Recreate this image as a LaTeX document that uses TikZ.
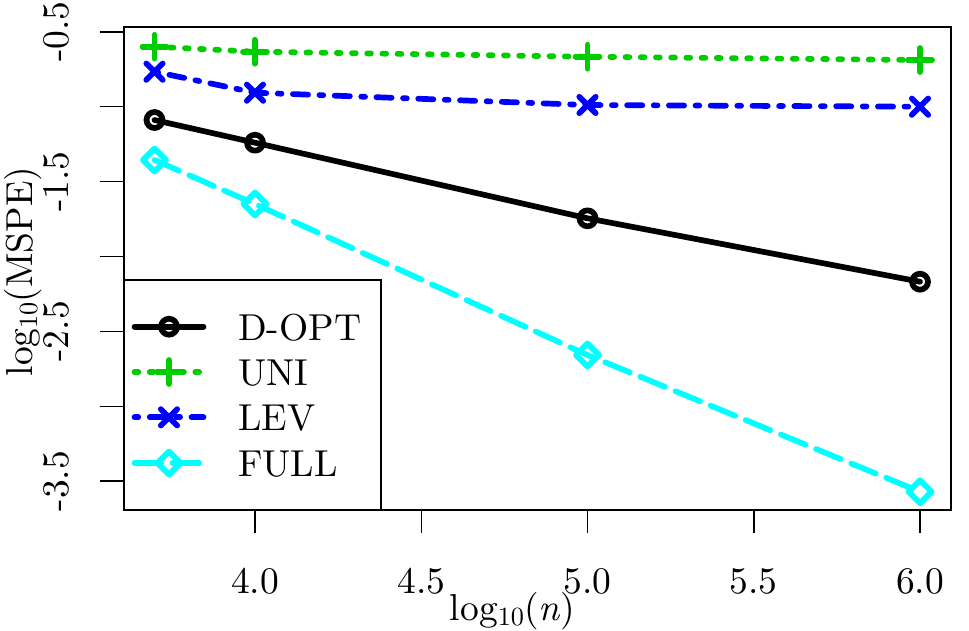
\documentclass[tikz,border=0pt]{standalone}
\usepackage{fontspec}
\setmainfont{lmroman10-regular}[Extension=.otf, ItalicFont=lmroman10-italic]
\newcommand{\subten}{\raisebox{-0.15em}{\fontsize{26.25}{30}\selectfont 10}}
\definecolor{rgreen}{HTML}{00CD00}
\definecolor{rblue}{HTML}{0000FF}
\definecolor{rcyan}{HTML}{00FFFF}
\tikzset{
  every node/.style={font=\fontsize{37.5}{45}\selectfont, inner sep=0pt},
  axisline/.style={line width=1.5pt, line cap=rect},
  serie/.style={line width=5.7pt, line cap=round, line join=round},
  solidsty/.style={serie},
  dotsty/.style={serie, dash pattern=on 3.8pt off 11.4pt},
  dotdashsty/.style={serie, dash pattern=on 3.8pt off 11.4pt on 15.2pt off 11.4pt},
  longdashsty/.style={serie, dash pattern=on 26.6pt off 11.4pt},
  mcircle/.pic={\draw[serie] (0,0) circle[radius=8pt];},
  mplus/.pic={\draw[serie] (-12,0) -- (12,0) (0,-12) -- (0,12);},
  mcross/.pic={\draw[serie] (-8.2,-8.2) -- (8.2,8.2) (-8.2,8.2) -- (8.2,-8.2);},
  mdiamond/.pic={\draw[serie] (-11.5,0) -- (0,-11.5) -- (11.5,0) -- (0,11.5) -- cycle;},
}
\begin{document}
\begin{tikzpicture}[x=1pt,y=-1pt]
\useasboundingbox (0,0) rectangle (969,630);
\fill[white] (0,0) rectangle (969,630);

% data coordinates
\coordinate (d1) at (154.5,120);   \coordinate (d2) at (255,142.7);
\coordinate (d3) at (587.5,218.3); \coordinate (d4) at (920,281.7);
\coordinate (u1) at (154.5,46.7);  \coordinate (u2) at (255,51.7);
\coordinate (u3) at (587.5,56.7);  \coordinate (u4) at (920,60);
\coordinate (l1) at (154.5,71.7);  \coordinate (l2) at (255,92.7);
\coordinate (l3) at (587.5,105);   \coordinate (l4) at (920,106.7);
\coordinate (f1) at (154.5,160);   \coordinate (f2) at (255,204);
\coordinate (f3) at (587.5,355);   \coordinate (f4) at (920,491.7);

% series
\draw[solidsty, black] (d1) -- (d2) -- (d3) -- (d4);
\draw[dotsty, rgreen] (u1) -- (u2) -- (u3) -- (u4);
\draw[dotdashsty, rblue] (l1) -- (l2) -- (l3) -- (l4);
\draw[longdashsty, rcyan] (f1) -- (f2) -- (f3) -- (f4);
\foreach \p in {d1,d2,d3,d4} \pic[black] at (\p) {mcircle};
\foreach \p in {u1,u2,u3,u4} \pic[rgreen] at (\p) {mplus};
\foreach \p in {l1,l2,l3,l4} \pic[rblue] at (\p) {mcross};
\foreach \p in {f1,f2,f3,f4} \pic[rcyan] at (\p) {mdiamond};

% plot box
\coordinate (bl) at (124,510); \coordinate (tr) at (951,27);
\draw[axisline] (bl) rectangle (tr);

% x axis
\foreach \xx/\lab in {255/4.0, 421.25/4.5, 587.5/5.0, 753.75/5.5, 920/6.0}{
  \coordinate (xt) at (\xx,510);
  \draw[axisline, line cap=butt] (xt) -- ++(0,23);
  \node[anchor=base] (xl\lab) at (\xx,593) {\lab};
}
% y axis
\foreach \yy in {31.75,106.65,181.55,256.45,331.35,406.25,481.15}{
  \coordinate (yt) at (124,\yy);
  \draw[axisline, line cap=butt] (yt) -- ++(-24,0);
}
\foreach \yy/\lab in {31.75/-0.5, 181.55/-1.5, 331.35/-2.5, 481.15/-3.5}{
  \node[rotate=90, anchor=base] (yl\lab) at (68,\yy) {\lab};
}

% axis titles
\node[anchor=base] (xtitle) at (512.5,620) {log\subten(\textit{n})};
\node[rotate=90, anchor=base] (ytitle) at (32,271.5) {log\subten(MSPE)};

% legend
\draw[axisline, fill=white] (124,280) rectangle (381,510);
\coordinate (g1a) at (134.5,326.7); \coordinate (g1b) at (203.5,326.7);
\coordinate (g2a) at (134.5,372);   \coordinate (g2b) at (203.5,372);
\coordinate (g3a) at (134.5,417.3); \coordinate (g3b) at (203.5,417.3);
\coordinate (g4a) at (134.5,463);   \coordinate (g4b) at (203.5,463);
\draw[solidsty, black] (g1a) -- (g1b);
\draw[dotsty, rgreen] (g2a) -- (g2b);
\draw[dotdashsty, rblue] (g3a) -- (g3b);
\draw[longdashsty, rcyan] (g4a) -- (g4b);
\pic[black] at (169,326.7) {mcircle};
\pic[rgreen] at (169,372) {mplus};
\pic[rblue] at (169,417.3) {mcross};
\pic[rcyan] at (169,463) {mdiamond};
\node[anchor=base west] (t1) at (238,340) {D-OPT};
\node[anchor=base west] (t2) at (238,385.3) {UNI};
\node[anchor=base west] (t3) at (238,430.6) {LEV};
\node[anchor=base west] (t4) at (238,476.3) {FULL};
\end{tikzpicture}
\end{document}
